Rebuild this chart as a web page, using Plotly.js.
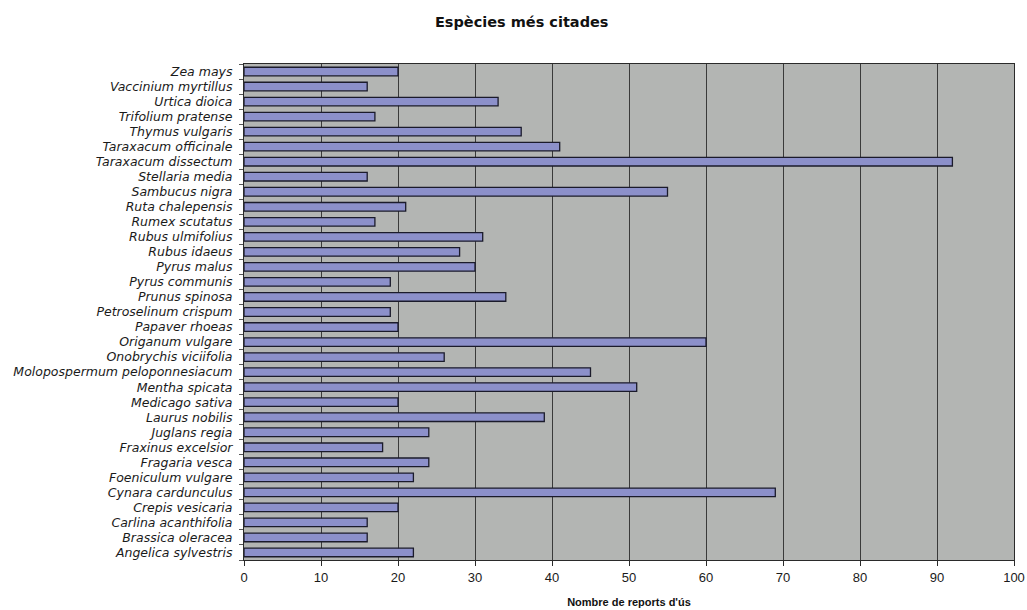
<!DOCTYPE html>
<html>
<head>
<meta charset="utf-8">
<script src="https://cdn.plot.ly/plotly-3.0.1.min.js"></script>
<style>
  html, body { margin: 0; padding: 0; background: #ffffff; }
  #chart { width: 1027px; height: 610px; }
</style>
</head>
<body>
<div id="chart"></div>
<script>
// Species, listed bottom to top as they appear on the category axis
const species = [
  "Angelica sylvestris", "Brassica oleracea", "Carlina acanthifolia", "Crepis vesicaria",
  "Cynara cardunculus", "Foeniculum vulgare", "Fragaria vesca", "Fraxinus excelsior",
  "Juglans regia", "Laurus nobilis", "Medicago sativa", "Mentha spicata",
  "Molopospermum peloponnesiacum", "Onobrychis viciifolia", "Origanum vulgare", "Papaver rhoeas",
  "Petroselinum crispum", "Prunus spinosa", "Pyrus communis", "Pyrus malus",
  "Rubus idaeus", "Rubus ulmifolius", "Rumex scutatus", "Ruta chalepensis",
  "Sambucus nigra", "Stellaria media", "Taraxacum dissectum", "Taraxacum officinale",
  "Thymus vulgaris", "Trifolium pratense", "Urtica dioica", "Vaccinium myrtillus", "Zea mays"
];

// Number of use reports per species
const useReports = [
  22, 16, 16, 20,
  69, 22, 24, 18,
  24, 39, 20, 51,
  45, 26, 60, 20,
  19, 34, 19, 30,
  28, 31, 17, 21,
  55, 16, 92, 41,
  36, 17, 33, 16, 20
];

const xTicks = [0, 10, 20, 30, 40, 50, 60, 70, 80, 90, 100];

const font = "Liberation Sans, Arial, sans-serif";
const wideFont = "DejaVu Sans, Verdana, sans-serif";

const trace = {
  type: "bar",
  orientation: "h",
  y: species,
  x: useReports,
  width: 0.57,
  marker: {
    color: "#8c90ca",
    line: { color: "#1b1b2b", width: 1.3 }
  },
  hoverinfo: "x+y"
};

const layout = {
  width: 1027,
  height: 610,
  margin: { l: 244, r: 13, t: 64, b: 50 },
  paper_bgcolor: "#ffffff",
  plot_bgcolor: "#b3b5b3",
  showlegend: false,
  title: {
    text: "<b>Espècies més citades</b>",
    font: { family: wideFont, size: 14.5, color: "#111111" },
    x: 0.508,
    xanchor: "center",
    y: 0.964,
    yanchor: "middle"
  },
  xaxis: {
    range: [0, 100],
    tickvals: xTicks,
    ticktext: xTicks.map(String),
    showgrid: true,
    gridcolor: "#3a3a3a",
    gridwidth: 1,
    zeroline: false,
    showline: true,
    linecolor: "#2a2a2a",
    linewidth: 1,
    mirror: true,
    ticks: "outside",
    ticklen: 5,
    tickcolor: "#2a2a2a",
    tickfont: { family: font, size: 13, color: "#1a1a1a" },
    title: {
      text: "<b>Nombre de reports d'ús</b>",
      font: { family: font, size: 11, color: "#111111" },
      standoff: 14
    },
    fixedrange: true
  },
  yaxis: {
    type: "category",
    categoryorder: "array",
    categoryarray: species,
    range: [-0.5, species.length - 0.5],
    showgrid: false,
    zeroline: false,
    showline: true,
    linecolor: "#2a2a2a",
    linewidth: 1,
    mirror: true,
    ticks: "outside",
    tickson: "boundaries",
    ticklen: 4,
    tickcolor: "#555555",
    ticklabelstandoff: 8,
    tickfont: { family: wideFont, size: 12.5, color: "#1a1a1a", style: "italic" },
    automargin: false,
    fixedrange: true
  }
};

Plotly.newPlot("chart", [trace], layout, { displayModeBar: false, staticPlot: true });
</script>
</body>
</html>
